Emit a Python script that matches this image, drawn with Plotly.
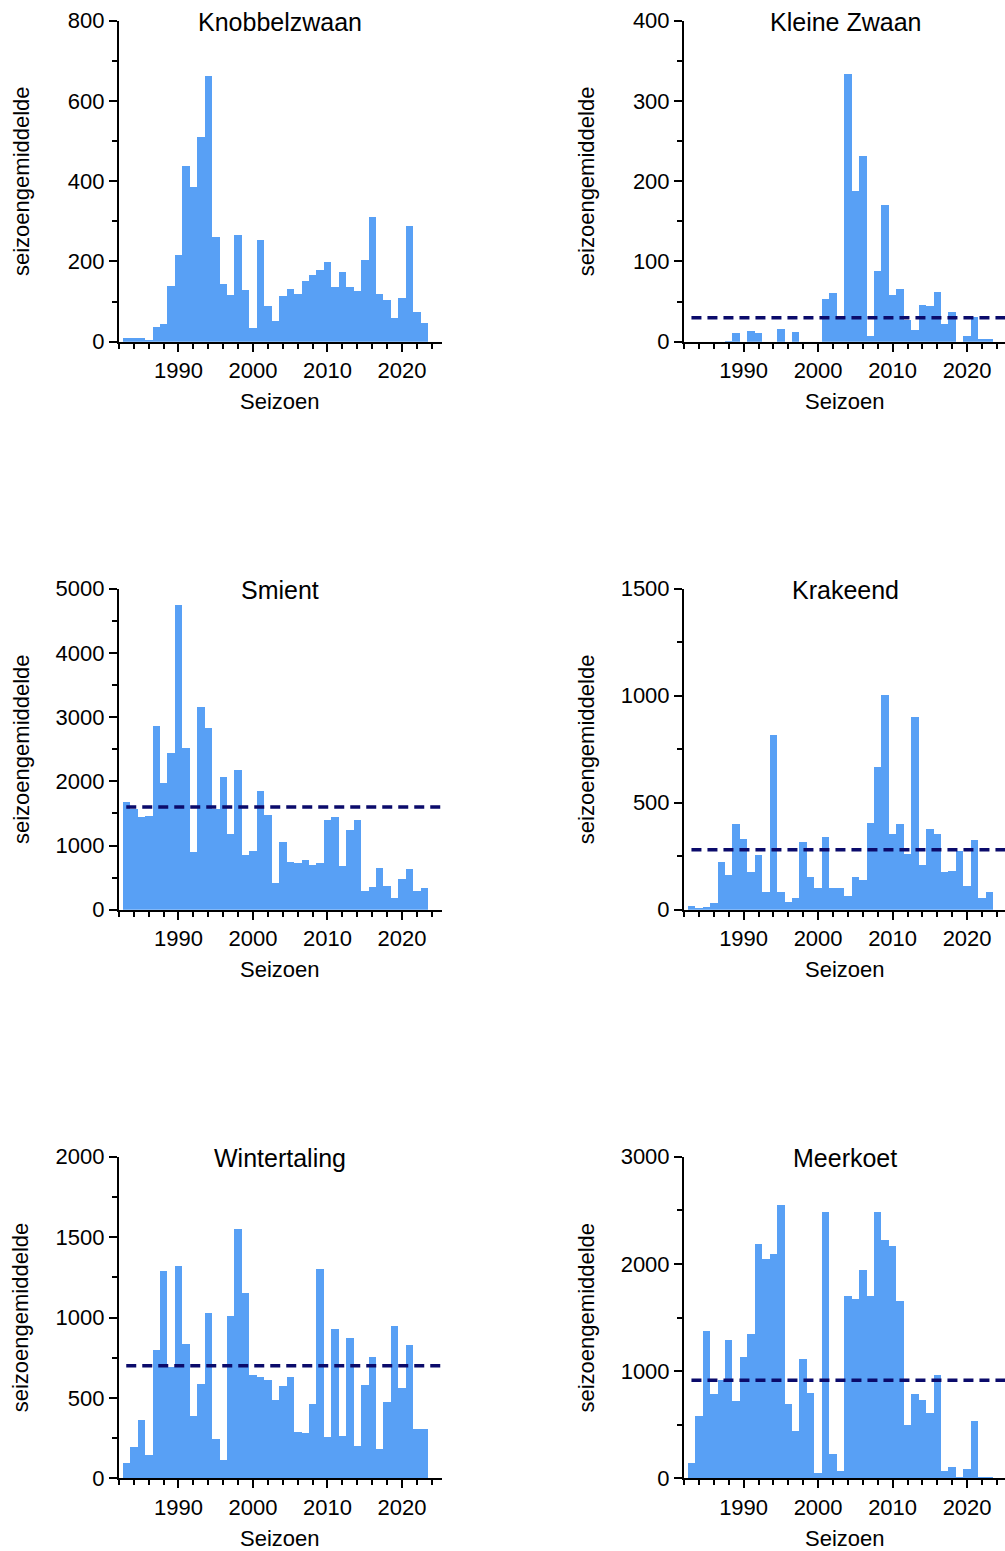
import plotly.graph_objects as go

W, H = 1005, 1551

seasons = list(range(1983, 2024))

titles = ["Knobbelzwaan", "Kleine Zwaan", "Smient", "Krakeend", "Wintertaling", "Meerkoet"]

knobbelzwaan = [11, 9, 9, 6, 37, 46, 140, 216, 439, 386, 511, 664, 262, 145, 117, 267, 129, 36, 253, 89, 52, 114, 133,
                120, 151, 166, 180, 200, 137, 175, 138, 127, 204, 312, 120, 105, 61, 109, 289, 74, 47]
kleine_zwaan = [0, 0, 0, 0, 0, 1, 11, 0, 14, 11, 0, 0, 16, 0, 12, 0, 0, 0,
                53, 61, 29, 334, 188, 232, 8, 89, 171, 59, 66, 28, 15, 46, 45, 62, 22, 37, 0, 8, 31, 4, 4]
smient = [1677, 1570, 1449, 1464, 2861, 1978, 2451, 4751, 2528, 909, 3167, 2830, 1580, 2072, 1189, 2175, 857, 919, 1854,
          1480, 426, 1064, 753, 727, 774, 696, 727, 1402, 1454, 680, 1251, 1402, 296, 353, 659, 379, 182, 483, 644, 296, 343]
krakeend = [20, 6, 14, 31, 226, 164, 400, 332, 176, 257, 86, 818, 86, 36, 58, 316, 156, 104, 341, 104, 104, 65,
            153, 140, 405, 670, 1005, 355, 403, 263, 902, 210, 377, 355, 176, 182, 276, 111, 326, 58, 86]
wintertaling = [97, 195, 367, 149, 798, 1289, 694, 1324, 839, 392, 591, 1030, 247, 114, 1009, 1552, 1154, 645, 632, 611,
                487, 578, 630, 290, 284, 466, 1304, 257, 931, 263, 875, 205, 584, 756, 184, 475, 947, 564, 833, 309, 309]
meerkoet = [146, 580, 1374, 793, 923, 1296, 721, 1135, 1349, 2192, 2052, 2095, 2553, 696, 448, 1116, 799, 53, 2487, 230,
            75, 1700, 1679, 1949, 1700, 2487, 2223, 2173, 1657, 504, 787, 734, 616, 967, 75, 109, 19, 93, 535, 16, 16]

series = [knobbelzwaan, kleine_zwaan, smient, krakeend, wintertaling, meerkoet]
means = [None, 30, 1600, 280, 700, 915]
y_max = [800, 400, 5000, 1500, 2000, 3000]
y_dtick = [200, 100, 1000, 500, 500, 1000]

x_ticks = [1990, 2000, 2010, 2020]
x_label = "Seizoen"
y_label = "seizoengemiddelde"

BAR = "#58a0f5"
DASH = "#0b0b6b"
FONT = "Liberation Sans, Arial, sans-serif"

# layout geometry (pixels)
col_left = [118.8, 684.0]
col_right = [441.5, 1005.0]
row_top = [20.7, 588.7, 1156.7]
row_bot = [341.7, 909.7, 1478.3]
px_per_year = 7.45
x_start = 1982.0

fig = go.Figure()
annotations = []

for i in range(6):
    r, c = divmod(i, 2)
    n = i + 1
    xa = "x" if n == 1 else f"x{n}"
    ya = "y" if n == 1 else f"y{n}"
    x0p, x1p = col_left[c], col_right[c]
    y0p, y1p = row_top[r], row_bot[r]
    x_end = x_start + (x1p - x0p) / px_per_year

    fig.add_trace(go.Bar(x=seasons, y=series[i], width=1.0, marker=dict(color=BAR, line=dict(width=0)),
                         xaxis=xa, yaxis=ya, showlegend=False, hoverinfo="x+y"))
    if means[i] is not None:
        fig.add_trace(go.Scatter(x=[seasons[0], x_end], y=[means[i], means[i]], mode="lines",
                                 line=dict(color=DASH, width=3.5, dash="10px,6px"),
                                 xaxis=xa, yaxis=ya, showlegend=False, hoverinfo="skip"))

    xkey = "xaxis" if n == 1 else f"xaxis{n}"
    ykey = "yaxis" if n == 1 else f"yaxis{n}"
    fig.layout[xkey] = dict(
        domain=[x0p / W, x1p / W], anchor=ya, range=[x_start, x_end], automargin=False,
        tickmode="array", tickvals=x_ticks, ticks="outside", ticklen=8, tickwidth=2, tickcolor="black",
        showline=True, linewidth=2, linecolor="black", showgrid=False, zeroline=False,
        tickfont=dict(family=FONT, size=22, color="black"),
        minor=dict(dtick=2, tick0=1990, ticks="outside", ticklen=5, tickwidth=1.5, tickcolor="black", showgrid=False),
        fixedrange=True,
    )
    fig.layout[ykey] = dict(
        domain=[1 - y1p / H, 1 - y0p / H], anchor=xa, range=[0, y_max[i]], automargin=False,
        tick0=0, dtick=y_dtick[i], ticks="outside", ticklen=8, tickwidth=2, tickcolor="black",
        showline=True, linewidth=2, linecolor="black", showgrid=False, zeroline=False,
        tickfont=dict(family=FONT, size=22, color="black"),
        minor=dict(dtick=y_dtick[i] / 2, ticks="outside", ticklen=5, tickwidth=1.5, tickcolor="black", showgrid=False),
        fixedrange=True,
    )

    cx = (x0p + x1p) / 2 if c == 0 else 845.0
    annotations.append(dict(text=titles[i], x=cx / W, y=1 - (y0p + 1) / H, xref="paper", yref="paper",
                            xanchor="center", yanchor="middle", showarrow=False,
                            font=dict(family=FONT, size=25, color="black")))
    annotations.append(dict(text=x_label, x=cx / W, y=1 - (y1p + 60) / H, xref="paper", yref="paper",
                            xanchor="center", yanchor="middle", showarrow=False,
                            font=dict(family=FONT, size=22, color="black")))
    annotations.append(dict(text=y_label, x=(x0p - 98) / W, y=1 - (y0p + y1p) / 2 / H, xref="paper", yref="paper",
                            xanchor="center", yanchor="middle", showarrow=False, textangle=-90,
                            font=dict(family=FONT, size=22, color="black")))

fig.update_layout(
    width=W, height=H, margin=dict(l=0, r=0, t=0, b=0, pad=0, autoexpand=False),
    paper_bgcolor="white", plot_bgcolor="white", autosize=False,
    bargap=0, annotations=annotations, showlegend=False,
)

fig.write_html(
    "out.html",
    config={"displayModeBar": False, "responsive": False},
    post_script="document.body.style.margin='0';document.body.style.overflow='hidden';",
)
